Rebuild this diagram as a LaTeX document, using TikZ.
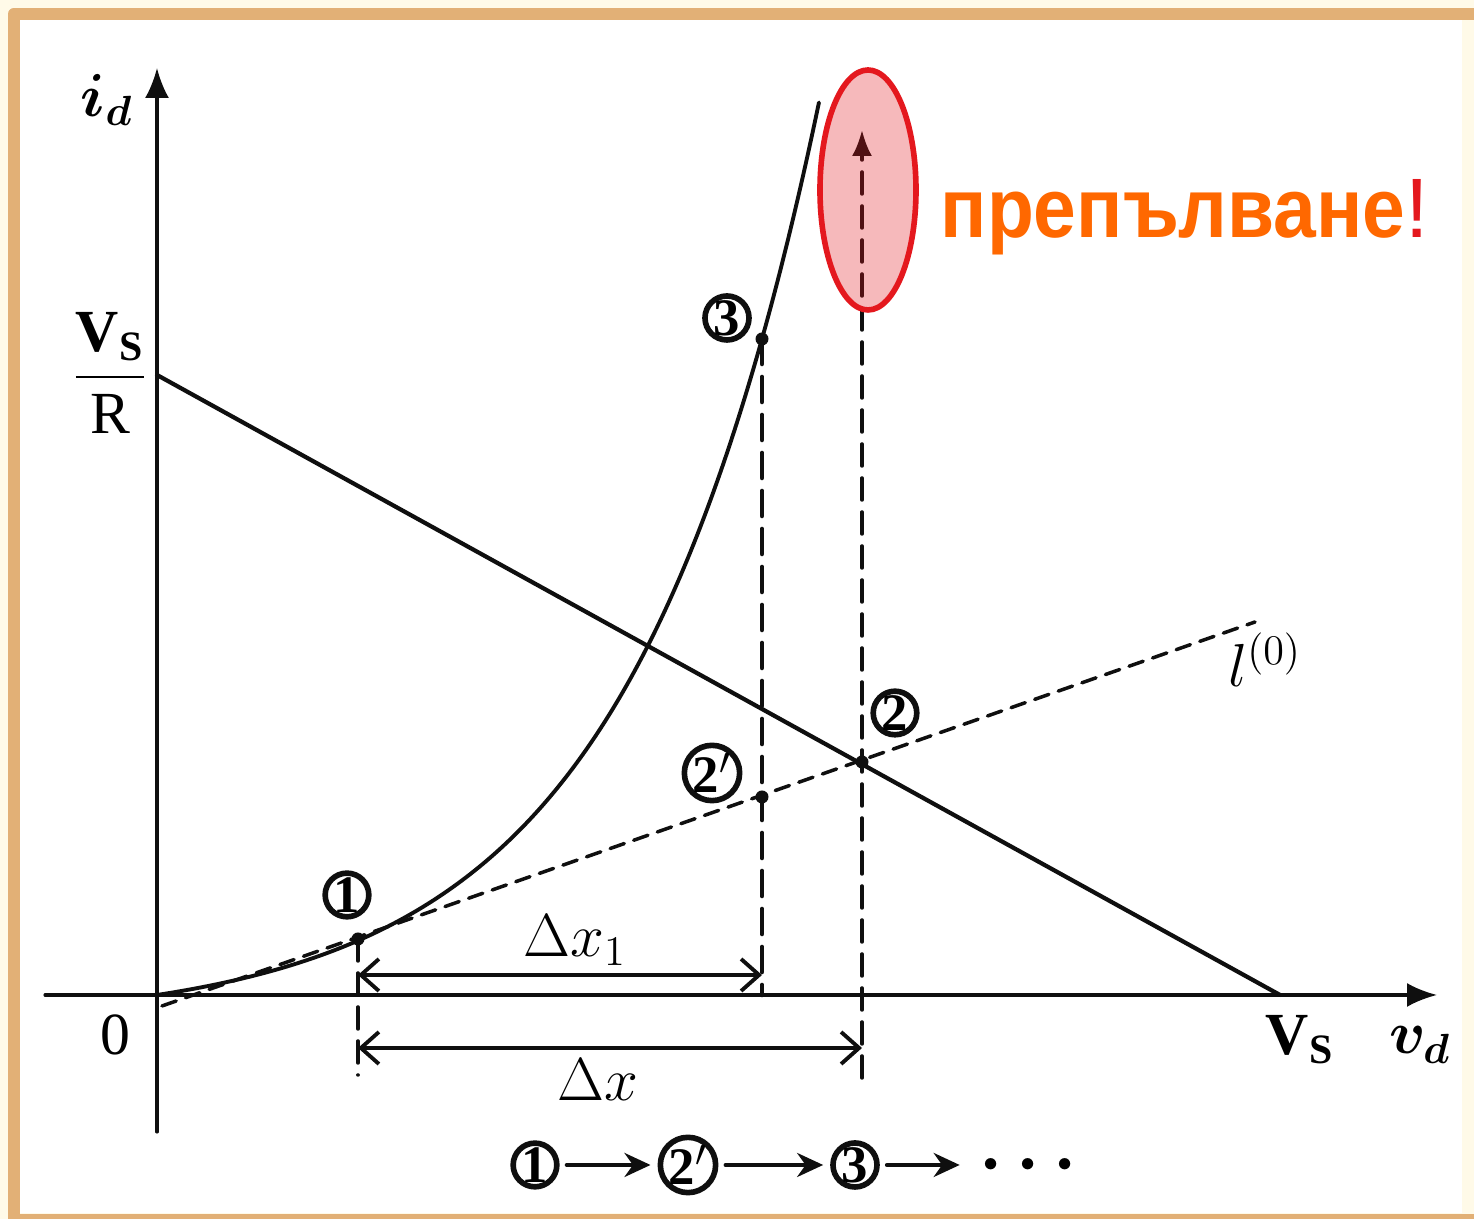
\documentclass[tikz,border=0pt]{standalone}
\usepackage{amsmath}
\usepackage{bm}
\usepackage{fontspec}
\setmainfont{Liberation Serif}
\newfontfamily\warnfont{Liberation Sans}
\usepackage{tikz}
\usetikzlibrary{arrows.meta}

\begin{document}
\begin{tikzpicture}[
    >=Latex,
    line cap=round,
    line join=round,
    font=\fontsize{17}{20}\selectfont,
    x=1cm,
    y=1cm
]

% =========================================================
% Colors
% =========================================================
\definecolor{framecream}{RGB}{255,250,232}
\definecolor{frametan}{RGB}{226,176,118}
\definecolor{warnred}{RGB}{228,24,30}
\definecolor{warnorange}{RGB}{255,104,0}
\definecolor{inkblack}{RGB}{15,15,15}

% =========================================================
% Styles
% =========================================================
\tikzset{
    axisline/.style={inkblack,line width=0.9pt,-{Latex[length=3mm,width=2.4mm]}},
    loadline/.style={inkblack,line width=1.2pt},
    diodecurve/.style={inkblack,line width=1.1pt,smooth,samples=200},
    tangentline/.style={inkblack,line width=1.0pt,dash pattern=on 0.15cm off 0.1cm},
    guideline/.style={inkblack,line width=1.0pt,dash pattern=on 0.22cm off 0.12cm},
    guidethick/.style={inkblack,line width=1.3pt,dash pattern=on 0.25cm off 0.13cm},
    dimarrow/.style={inkblack,line width=1.1pt,
        {Straight Barb[length=1.8mm,width=3.2mm]}-{Straight Barb[length=1.8mm,width=3.2mm]}},
    seqarrow/.style={inkblack,line width=1.1pt,-{Stealth[length=2.6mm,width=2.4mm]},
        shorten <=2pt,shorten >=2pt},
    ptlabel/.style={circle,draw=inkblack,line width=1.6pt,minimum size=0.38cm,
        inner sep=0pt,font=\fontsize{15}{17}\selectfont\bfseries},
    ptdot/.style={inkblack}
}

% =========================================================
% Frame
% =========================================================
\useasboundingbox (-1.57,-2.24) rectangle (13.17,9.95);
\fill[framecream] (-1.57,-2.24) rectangle (13.17,9.95);
\fill[white] (-1.37,-2.18) rectangle (13.05,9.75);
\draw[frametan,line width=0.12cm,line cap=butt]
    (13.17,9.81) -- (-1.43,9.81) -- (-1.43,-2.24);
\fill[frametan] (-1.49,-2.24) rectangle (13.17,-2.19);

% =========================================================
% Axes
% =========================================================
\coordinate (yfoot) at (0,-1.37);
\coordinate (ytip) at (0,9.27);
\coordinate (xfoot) at (-1.12,0);
\coordinate (xtip) at (12.80,0);
\draw[axisline] (yfoot) -- (ytip);
\draw[axisline] (xfoot) -- (xtip);

\node (idlab) at (-0.50,8.95) {$\bm{i_d}$};
\node (zerolab) at (-0.42,-0.40) {0};
\node (vsrlab) at (-0.47,6.22) {$\dfrac{\mathbf{V_S}}{\mathrm{R}}$};
\node (vslab) at (11.43,-0.45) {$\mathbf{V_S}$};
\node (vdlab) at (12.63,-0.50) {$\bm{v_d}$};

% =========================================================
% Load line, diode curve, linearisation
% =========================================================
\coordinate (vsr) at (0,6.20);
\coordinate (vs) at (11.23,0);
\draw[loadline] (vsr) -- (vs);

\draw[diodecurve,domain=0:6.62]
    plot(\x,{0.295*(exp(0.52*\x)-1)});

\coordinate (l0a) at (0.05,-0.11);
\coordinate (l0b) at (10.98,3.73);
\draw[tangentline] (l0a) -- (l0b);
\node (l0lab) at (11.08,3.35) {$l^{(0)}$};

% iteration points
\coordinate (p1) at (2.01,0.56);
\coordinate (p2p) at (6.05,1.98);
\coordinate (p2) at (7.05,2.33);
\coordinate (p3) at (6.05,6.56);

% guides down to the axis
\coordinate (p1foot) at (2.01,-0.80);
\coordinate (p3foot) at (6.05,0);
\coordinate (p2foot) at (7.05,-0.83);
\coordinate (p2tip) at (7.05,8.65);
\draw[guideline] (p1) -- (p1foot);
\draw[guidethick] (p3) -- (p3foot);
\draw[guideline,-{Latex[length=2.6mm,width=2mm]}] (p2foot) -- (p2tip);

\foreach \p in {p1,p2p,p2,p3}
    \fill[ptdot] (\p) circle (0.065);

\node[ptlabel] (c1) at (1.90,1.00) {1};
\node[ptlabel] (c2p) at (5.55,2.22) {2$'$};
\node[ptlabel] (c2) at (7.38,2.82) {2};
\node[ptlabel] (c3) at (5.70,6.77) {3};

% =========================================================
% Overshoot mark
% =========================================================
\fill[warnred,opacity=0.3] (7.11,8.05) ellipse (0.48 and 1.20);
\draw[warnred,line width=1.6pt] (7.11,8.05) ellipse (0.48 and 1.20);
\node[anchor=west,inner sep=0pt,text=warnorange,
      font=\warnfont\fontsize{24}{28}\selectfont\bfseries]
    (warn) at (7.83,7.78)
    {\scalebox{0.91}[1]{препълване}\textcolor{warnred}{\mdseries !}};

% =========================================================
% Step widths
% =========================================================
\coordinate (dx1a) at (2.01,0.20);
\coordinate (dx1b) at (6.05,0.20);
\draw[dimarrow] (dx1a) -- (dx1b);
\node (dx1lab) at (4.18,0.55) {$\Delta x_1$};

\coordinate (dxa) at (2.01,-0.53);
\coordinate (dxb) at (7.05,-0.53);
\draw[dimarrow] (dxa) -- (dxb);
\node (dxlab) at (4.41,-0.85) {$\Delta x$};

% =========================================================
% Iteration sequence
% =========================================================
\node[ptlabel] (s1) at (3.78,-1.70) {1};
\node[ptlabel] (s2p) at (5.31,-1.70) {2$'$};
\node[ptlabel] (s3) at (6.98,-1.70) {3};
\node[font=\fontsize{22}{24}\selectfont] (sdots) at (8.78,-1.70) {$\bm{\cdots}$};
\draw[seqarrow] (s1) -- (s2p);
\draw[seqarrow] (s2p) -- (s3);
\draw[seqarrow] (s3) -- (sdots);

\end{tikzpicture}
\end{document}
